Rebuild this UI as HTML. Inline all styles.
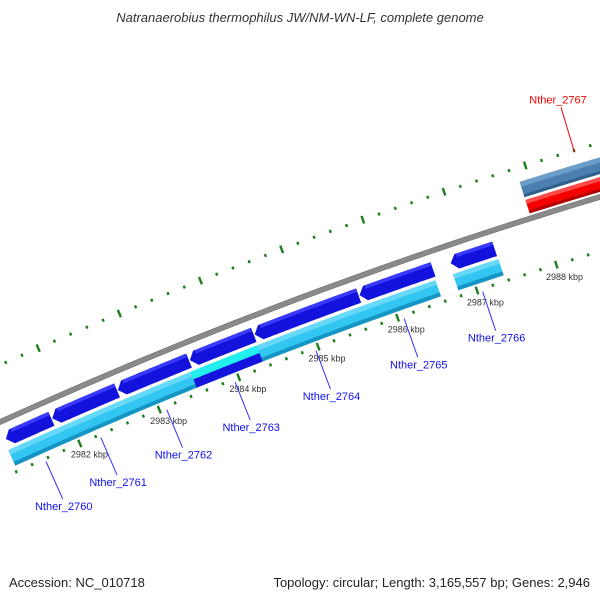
<!DOCTYPE html>
<html><head><meta charset="utf-8"><style>
html,body{margin:0;padding:0;background:#fff;}
svg{display:block;font-family:"Liberation Sans","DejaVu Sans",sans-serif;}
</style></head><body>
<svg id="map" width="600" height="600" viewBox="0 0 600 600" xmlns="http://www.w3.org/2000/svg">
<text x="300" y="22" text-anchor="middle" font-size="13" font-style="italic" fill="#333">Natranaerobius thermophilus JW/NM-WN-LF, complete genome</text>
<g id="layer"></g>
<text x="9" y="587" font-size="13" fill="#222">Accession: NC_010718</text>
<text x="590" y="587" text-anchor="end" font-size="13" fill="#222">Topology: circular; Length: 3,165,557 bp; Genes: 2,946</text>
</svg>
<script>
// data (kbp)
const tickStart = 2981.2;
const tickEnd = 2988.8;
const majorTickLabels = [2982, 2983, 2984, 2985, 2986, 2987, 2988];
const revGeneStarts = [2981.24, 2981.82, 2982.64, 2983.54, 2984.35, 2985.66, 2986.80];
const revGeneEnds   = [2981.82, 2982.64, 2983.54, 2984.35, 2985.66, 2986.59, 2987.36];
const lightStarts = [2981.22, 2986.79];
const lightEnds   = [2986.57, 2987.36];
const highlightStart = 2983.50;
const highlightEnd = 2984.33;
const steelStarts = [2987.88];
const steelEnds = [2988.9];
const redStarts = [2987.88];
const redEnds = [2988.9];
const geneLabels = ["Nther_2760","Nther_2761","Nther_2762","Nther_2763","Nther_2764","Nther_2765","Nther_2766"];
const geneLabelKb = [2981.56, 2982.25, 2983.08, 2983.94, 2984.96, 2986.07, 2987.06];
const redLabel = "Nther_2767";
const redLabelKb = 2988.6;

// axis functions
const A=0.0001278, B=-0.4517, C=422;
function xOf(kb){return 59+(kb-2982)*80.3;}
function P(kb,off){
  const x=xOf(kb), y=A*x*x+B*x+C, s=B+2*A*x, n=Math.hypot(s,1);
  return [x+off*s/n, y-off*1/n];
}
const NS="http://www.w3.org/2000/svg";
const layer=document.getElementById('layer');
function mk(tag,attrs,parent){const e=document.createElementNS(NS,tag);for(const k in attrs)e.setAttribute(k,attrs[k]);(parent||layer).appendChild(e);return e;}
function band(k1,k2,o1,o2){
  const pts=[];const N=30;
  for(let i=0;i<=N;i++){pts.push(P(k1+(k2-k1)*i/N,o1));}
  for(let i=N;i>=0;i--){pts.push(P(k1+(k2-k1)*i/N,o2));}
  return pts.map(p=>p[0].toFixed(1)+','+p[1].toFixed(1)).join(' ');
}
function arrowPoly(k1,k2,oc,h){
  const tip=0.08, pts=[];const N=30;const a=k1+tip;
  pts.push(P(k1,oc));
  for(let i=0;i<=N;i++)pts.push(P(a+(k2-a)*i/N,oc+h/2));
  for(let i=N;i>=0;i--)pts.push(P(a+(k2-a)*i/N,oc-h/2));
  return pts.map(p=>p[0].toFixed(1)+','+p[1].toFixed(1)).join(' ');
}
function line(p1,p2,attrs,parent){return mk('line',Object.assign({x1:p1[0],y1:p1[1],x2:p2[0],y2:p2[1]},attrs),parent);}

// ticks
const gT=mk('g',{});


for(let i=0;;i++){
  const kb=tickStart+i*0.2; if(kb>tickEnd)break;
  const major=Math.abs(kb-Math.round(kb))<0.01;
  const L=major?4:1.5;
  [52,-52].forEach(o=>{
    const t=line(P(kb,o-L),P(kb,o+L),{stroke:'#1d7f1d','stroke-width':2.4},gT);
    
    
  });
}
majorTickLabels.forEach(kb=>{
  const p=P(kb+0.05,-66);
  const t=mk('text',{x:p[0],y:p[1]+3,'text-anchor':'middle','font-size':9,fill:'#333'});
  t.textContent=kb+' kbp';
  
  
});

// backbone
const bb=mk('polygon',{points:band(2981.0,2989.0,2.5,-2.5),fill:'#8a8a8a',stroke:'#6e6e6e','stroke-width':0.6});



// steel blue track
steelStarts.forEach((s,i)=>{
  const e=mk('polygon',{points:band(s,steelEnds[i],38,22),fill:'#4a7fb0'});
  
  
  mk('polygon',{points:band(s,steelEnds[i],38,33),fill:'#6c9cc8'});
  mk('polygon',{points:band(s,steelEnds[i],25,22),fill:'#2f5f8a'});
});
// red gene
redStarts.forEach((s,i)=>{
  const e=mk('polygon',{points:band(s,redEnds[i],19,5),fill:'#f50000'});
  
  
  mk('polygon',{points:band(s,redEnds[i],19,15),fill:'#ff4a4a'});
  mk('polygon',{points:band(s,redEnds[i],8,5),fill:'#b00000'});
});
// light blue track
lightStarts.forEach((s,i)=>{
  const e=mk('polygon',{points:band(s,lightEnds[i],-29,-46),fill:'#33c6f2'});
  
  
  mk('polygon',{points:band(s,lightEnds[i],-29,-34),fill:'#66d8f8'});
  mk('polygon',{points:band(s,lightEnds[i],-42,-46),fill:'#1595c4'});
});
// highlighted region
{
  const e=mk('polygon',{points:band(highlightStart,highlightEnd,-29,-37),fill:'#22eeee'});
  
  
  const f=mk('polygon',{points:band(highlightStart,highlightEnd,-37,-46),fill:'#1414dc'});
  
  
}
// reverse-strand genes
revGeneStarts.forEach((s,i)=>{
  const e=mk('polygon',{points:arrowPoly(s,revGeneEnds[i],-18,16),fill:'#1212dc',stroke:'#fff','stroke-width':0.8});
  
  
  mk('polygon',{points:band(s+0.1,revGeneEnds[i]-0.01,-10.5,-14),fill:'#3a3aff'});
});

// gene labels
geneLabels.forEach((lab,i)=>{
  const kb=geneLabelKb[i];
  const a=P(kb,-55), b=P(kb,-96);
  const l=line(a,b,{stroke:'#3030ff','stroke-width':1});
  
  
  const t=mk('text',{x:b[0]+1,y:b[1]+11,'text-anchor':'middle','font-size':11,fill:'#1010ee'});
  t.textContent=lab;
  
  
});
{
  const a=P(redLabelKb,50), b=P(redLabelKb,97);
  const l=line(a,b,{stroke:'#ee0000','stroke-width':1});
  
  
  const t=mk('text',{x:b[0]-3,y:b[1]-4,'text-anchor':'middle','font-size':11,fill:'#ee0000'});
  t.textContent=redLabel;
  
  
}
</script>
</body></html>
